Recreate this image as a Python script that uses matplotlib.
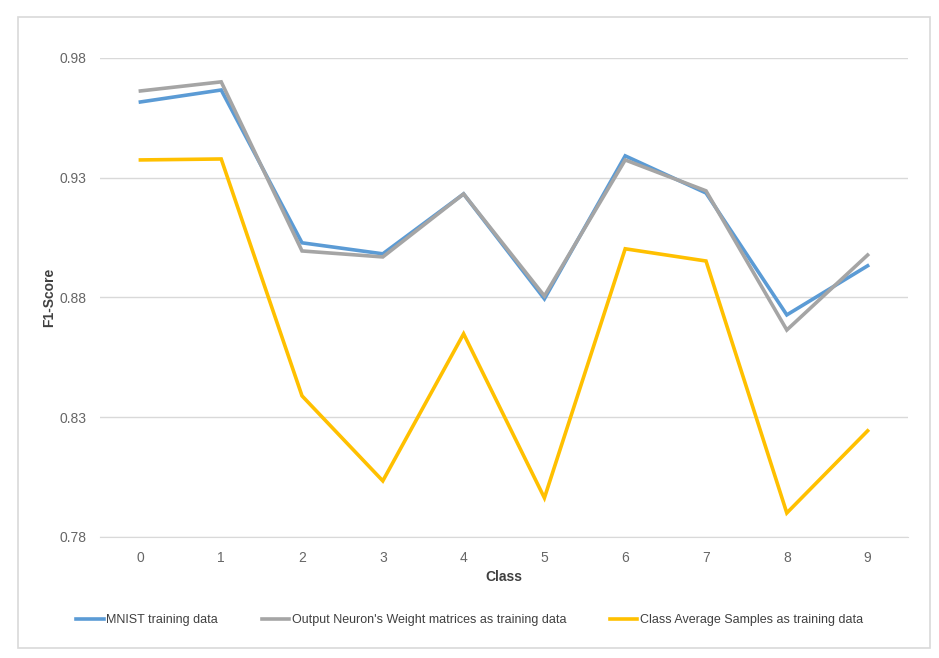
import matplotlib
matplotlib.use("Agg")
import matplotlib.pyplot as plt
from matplotlib.patches import Rectangle

# values
classes = [0, 1, 2, 3, 4, 5, 6, 7, 8, 9]
mnist = [0.9616, 0.9666, 0.9028, 0.8982, 0.9232, 0.8794, 0.9391, 0.9236, 0.8727, 0.8932]
weights = [0.9662, 0.9700, 0.8994, 0.8969, 0.9232, 0.8806, 0.9374, 0.9245, 0.8664, 0.8977]
class_avg = [0.9374, 0.9378, 0.8389, 0.8034, 0.8648, 0.7963, 0.9003, 0.8952, 0.7900, 0.8243]
y_ticks = [0.78, 0.83, 0.88, 0.93, 0.98]

labels = ["MNIST training data",
          "Output Neuron's Weight matrices as training data",
          "Class Average Samples as training data"]
colors = ["#5b9bd5", "#a5a5a5", "#ffc000"]

plt.rcParams['font.family'] = ['Liberation Sans', 'DejaVu Sans']

fig = plt.figure(figsize=(9.39, 6.58), dpi=100)
ax = fig.add_axes([0.1065, 0.184, 0.8605, 0.728])

# outer chart border
fig.patches.append(Rectangle((18 / 939, 1 - 648 / 658), 912 / 939, 631 / 658,
                             transform=fig.transFigure, fill=False,
                             edgecolor="#d9d9d9", linewidth=1.2))

for series, lab, col in zip([mnist, weights, class_avg], labels, colors):
    ax.plot(classes, series, color=col, linewidth=2.6, label=lab,
            solid_joinstyle="miter")

ax.set_xlim(-0.5, 9.5)
ax.set_ylim(0.78, 0.98)
ax.set_yticks(y_ticks)
ax.set_yticklabels([f"{v:.2f}" for v in y_ticks])
ax.set_xticks(classes)
ax.grid(axis="y", color="#d9d9d9", linewidth=1)
ax.set_axisbelow(True)
for s in ["top", "right", "left"]:
    ax.spines[s].set_visible(False)
ax.spines["bottom"].set_color("#d9d9d9")
ax.tick_params(length=0, colors="#666666", labelsize=10, pad=10)

ax.set_xlabel("Class", fontsize=10, fontweight="bold", color="#404040", labelpad=4)
ax.set_ylabel("F1-Score", fontsize=10, fontweight="bold", color="#404040", labelpad=2)

fig.legend(loc="center", bbox_to_anchor=(0.5, 1 - 620 / 658), ncol=3, frameon=False,
           fontsize=9, handlelength=2.2, columnspacing=3.5, handletextpad=0.2,
           labelcolor="#404040")

fig.savefig("out.png", dpi=100)
